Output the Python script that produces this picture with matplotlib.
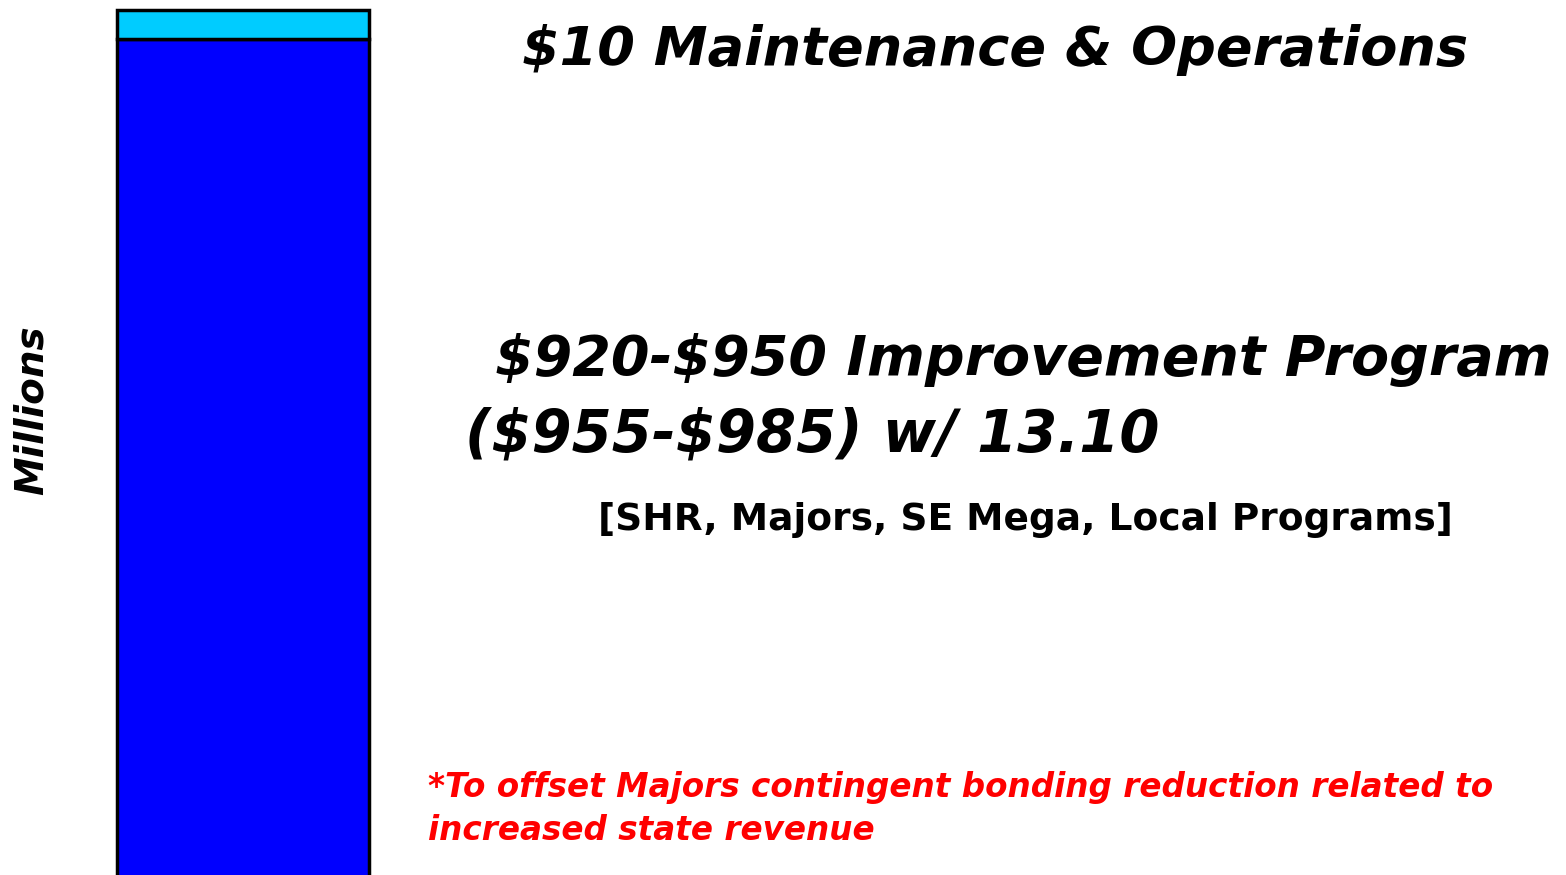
import matplotlib
matplotlib.use("Agg")
import matplotlib.pyplot as plt

plt.rcParams["text.parse_math"] = False

# stacked bar, values in $ millions
segments = ["Improvement Program", "Maintenance & Operations"]
values = [935, 10]
colors = ["#0000FF", "#00CCFF"]

labels_top = "$10 Maintenance & Operations"
labels_mid = ["$920-$950 Improvement Program", "($955-$985) w/ 13.10"]
label_sub = "[SHR, Majors, SE Mega, Local Programs]"
note = ["*To offset Majors contingent bonding reduction related to",
        "increased state revenue"]

fig = plt.figure(figsize=(15.66, 8.75), dpi=100)
ax = fig.add_axes([117/1566, 3.5/875, 252/1566, 861.5/875])

bottom = 0
for v, c in zip(values, colors):
    ax.bar(0, v, bottom=bottom, width=1, color=c, edgecolor="black",
           linewidth=2.5, clip_on=False)
    bottom += v
ax.set_xlim(-0.5, 0.5)
ax.set_ylim(647, 945)
ax.axis("off")

font = dict(family="DejaVu Sans", weight="bold", style="italic")

fig.text(32/1566, 1 - 410/875, "Millions", rotation=90, ha="center", va="center",
         fontsize=28, **font)
fig.text(995/1566, 1 - 50/875, labels_top, ha="center", va="center", fontsize=39, **font)
fig.text(495/1566, 1 - 360/875, labels_mid[0], ha="left", va="center", fontsize=40, **font)
fig.text(465/1566, 1 - 435/875, labels_mid[1], ha="left", va="center", fontsize=41.5, **font)
fig.text(1025/1566, 1 - 520/875, label_sub, ha="center", va="center", fontsize=27,
         family="DejaVu Sans", weight="bold")
fig.text(428/1566, 1 - 787/875, note[0], ha="left", va="center", fontsize=23.5,
         color="red", **font)
fig.text(428/1566, 1 - 830/875, note[1], ha="left", va="center", fontsize=23.5,
         color="red", **font)

fig.savefig("out.png", dpi=100)
